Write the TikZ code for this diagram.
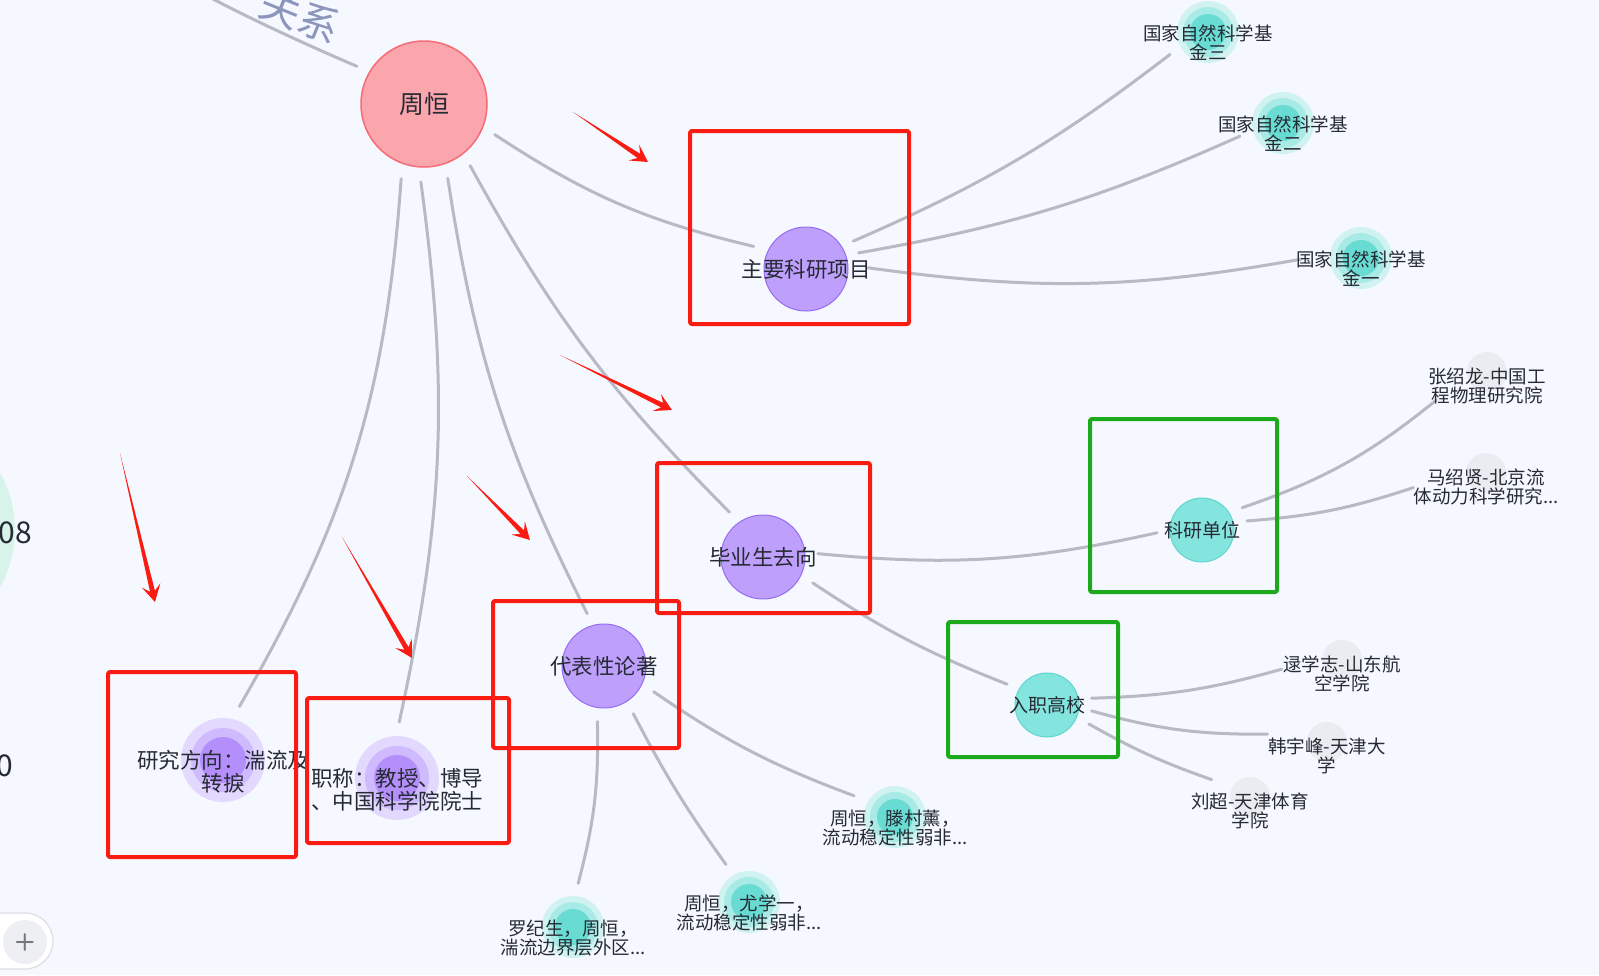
\documentclass[tikz,border=0pt]{standalone}
\usepackage{fontspec}
\newfontfamily\cjk{Noto Sans CJK SC}
\usetikzlibrary{calc}
\definecolor{bgc}{RGB}{245,248,254}
\definecolor{linkc}{RGB}{183,186,197}
\definecolor{ink}{RGB}{38,42,52}
\definecolor{relc}{RGB}{140,150,188}
\definecolor{hubfill}{RGB}{250,166,172}
\definecolor{hubdraw}{RGB}{246,108,118}
\definecolor{catfill}{RGB}{190,160,252}
\definecolor{catdraw}{RGB}{150,108,245}
\definecolor{subfill}{RGB}{132,228,222}
\definecolor{subdraw}{RGB}{96,214,207}
\definecolor{pA}{RGB}{227,217,254}
\definecolor{pB}{RGB}{206,186,253}
\definecolor{pC}{RGB}{180,142,250}
\definecolor{tA}{RGB}{208,243,241}
\definecolor{tB}{RGB}{168,234,229}
\definecolor{tC}{RGB}{104,219,210}
\definecolor{gA}{RGB}{234,236,241}
\definecolor{leftc}{RGB}{216,243,233}
\definecolor{annotred}{RGB}{250,28,18}
\definecolor{annotgreen}{RGB}{28,170,28}
\definecolor{btnc}{RGB}{220,222,228}
\definecolor{btnfill}{RGB}{238,239,242}
\definecolor{pluscol}{RGB}{118,118,128}
\tikzset{
  link/.style={draw=linkc,line width=3pt},
  hub/.style={circle,inner sep=0pt,minimum size=126pt,fill=hubfill,draw=hubdraw,line width=1.5pt},
  cat/.style={circle,inner sep=0pt,minimum size=84pt,fill=catfill,draw=catdraw,line width=1pt},
  sub/.style={circle,inner sep=0pt,minimum size=64pt,fill=subfill,draw=subdraw,line width=1pt},
  haloP/.style={circle,inner sep=0pt,minimum size=84pt,fill=pA,
    path picture={\fill[pB] (path picture bounding box.center) circle (32pt);
      \fill[pC] (path picture bounding box.center) circle (23pt);}},
  haloT/.style={circle,inner sep=0pt,minimum size=62pt,fill=tA,
    path picture={\fill[tB] (path picture bounding box.center) circle (25pt);
      \fill[tC] (path picture bounding box.center) circle (18pt);}},
  haloG/.style={circle,inner sep=0pt,minimum size=40pt,fill=gA},
  big/.style={font=\cjk\fontsize{25}{27}\selectfont,text=ink,inner sep=0pt},
  txt/.style={font=\cjk\fontsize{21.5}{22.5}\selectfont,text=ink,inner sep=0pt,align=center},
  small/.style={font=\cjk\fontsize{18.5}{19}\selectfont,text=ink,inner sep=0pt,align=center},
  redbox/.style={draw=annotred,line width=4pt,rounded corners=2pt},
  greenbox/.style={draw=annotgreen,line width=4pt,rounded corners=2pt},
}
% link: from, gap at from, bend, to, gap at to (gaps taken along the centre line)
\newcommand{\lnk}[5]{\draw[link] ($(#1)!#2pt!(#4)$) to[#3] ($(#4)!#5pt!(#1)$);}
% tapering hand-drawn annotation arrow: name, tail, head
\newcommand{\redarrow}[3]{%
  \coordinate (#1-t) at (#2);
  \coordinate (#1-h) at (#3);
  \coordinate (#1-b) at ($(#1-h)!17pt!(#1-t)$);
  \coordinate (#1-i) at ($(#1-h)!11pt!(#1-t)$);
  \fill[annotred] (#1-t) -- ($(#1-i)!2.5pt!90:(#1-h)$) -- ($(#1-b)!9.5pt!90:(#1-h)$) -- (#1-h)
    -- ($(#1-b)!9.5pt!-90:(#1-h)$) -- ($(#1-i)!2.5pt!-90:(#1-h)$) -- cycle;}
\begin{document}
\begin{tikzpicture}[x=1pt,y=-1pt,line cap=round,line join=round]
\clip (0,0) rectangle (1599,975);
\fill[bgc] (0,0) rectangle (1599,975);

% cut-off neighbour on the left
\fill[leftc] (-101,530) circle (116pt);
\node[font=\cjk\fontsize{30}{30}\selectfont,text=ink,inner sep=0pt,anchor=east] (num1) at (32,533) {08};
\node[font=\cjk\fontsize{30}{30}\selectfont,text=ink,inner sep=0pt,anchor=east] (num2) at (13,766) {0};

% nodes
\node[hub] (zh) at (424,104) {};
\node[cat] (proj) at (806,269) {};
\node[cat] (grad) at (763,557) {};
\node[cat] (paper) at (604,666) {};
\node[haloP] (rf) at (223,760) {};
\node[haloP] (title) at (397,778) {};
\node[sub] (inst) at (1202,530) {};
\node[sub] (univ) at (1047,705) {};
\foreach \n/\p in {f3/{1208,32},f2/{1283,123},f1/{1361,258},p1/{895,817},p2/{749,902},p3/{573,927}}
  \node[haloT] (\n) at (\p) {};
\foreach \n/\p in {g1/{1487,372},g2/{1486,473},u1/{1342,660},u2/{1327,742},u3/{1250,797}}
  \node[haloG] (\n) at (\p) {};
\coordinate (up) at (0,-134);

% links
\lnk{zh}{77}{bend left=6}{up}{0}
\lnk{zh}{78}{bend left=13}{rf}{56}
\lnk{zh}{78}{bend left=10}{title}{56}
\lnk{zh}{78}{bend right=9}{paper}{55}
\lnk{zh}{77}{bend right=8}{grad}{56}
\lnk{zh}{77}{bend right=10}{proj}{57}
\lnk{proj}{55}{bend right=7}{f3}{44}
\lnk{proj}{55}{bend right=7}{f2}{45}
\lnk{proj}{62}{bend right=9}{f1}{60}
\lnk{grad}{55}{bend right=9}{inst}{45}
\lnk{grad}{56}{bend right=6}{univ}{45}
\lnk{inst}{46}{bend right=10}{g1}{58}
\lnk{inst}{46}{bend right=7}{g2}{74}
\lnk{univ}{45}{bend right=7}{u1}{61}
\lnk{univ}{45}{bend right=8}{u2}{60}
\lnk{univ}{46}{bend right=5}{u3}{42}
\lnk{paper}{56}{bend right=7}{p1}{46}
\lnk{paper}{56}{bend right=4}{p2}{44}
\lnk{paper}{56}{bend left=8}{p3}{44}

% texts
\node[font=\cjk\fontsize{41}{41}\selectfont,text=relc,rotate=-22] (rel) at (300,15) {关系};
\node[big] (zh-l) at (zh) {周恒};
\node[txt] (proj-l) at (proj) {主要科研项目};
\node[txt] (grad-l) at (grad) {毕业生去向};
\node[txt] (paper-l) at (paper) {代表性论著};
\node[txt] (rf-l) at ([yshift=-12pt]rf.center) {研究方向：湍流及\\转捩};
\node[txt] (title-l) at ([yshift=-12pt]title.center) {职称：教授、博导\\、中国科学院院士};
\node[small,font=\cjk\fontsize{19}{19}\selectfont] (inst-l) at (inst) {科研单位};
\node[small,font=\cjk\fontsize{19}{19}\selectfont] (univ-l) at (univ) {入职高校};
\foreach \n/\t in {f3/{国家自然科学基\\金三},f2/{国家自然科学基\\金二},f1/{国家自然科学基\\金一},
    p1/{周恒，滕村薰，\\流动稳定性弱非...},p2/{周恒，尤学一，\\流动稳定性弱非...},p3/{罗纪生，周恒，\\湍流边界层外区...}}
  \node[small] (\n-l) at ([yshift=-11pt]\n.center) {\t};
\foreach \n/\t in {g1/{张绍龙-中国工\\程物理研究院},g2/{马绍贤-北京流\\体动力科学研究...},
    u1/{逯学志-山东航\\空学院},u2/{韩宇峰-天津大\\学},u3/{刘超-天津体育\\学院}}
  \node[small] (\n-l) at ([yshift=-14pt]\n.center) {\t};

% annotations
\draw[redbox] (690,131) rectangle (909,324);
\draw[redbox] (657,463) rectangle (870,613);
\draw[redbox] (493,601) rectangle (679,748);
\draw[redbox] (108,672) rectangle (296,857);
\draw[redbox] (307,698) rectangle (509,843);
\draw[greenbox] (1090,419) rectangle (1277,592);
\draw[greenbox] (948,622) rectangle (1118,757);
\redarrow{a1}{573,112}{648,162}
\redarrow{a2}{560,355}{672,410}
\redarrow{a3}{467,476}{530,540}
\redarrow{a4}{342,537}{412,658}
\redarrow{a5}{120,453}{155,602}

% zoom button
\draw[btnc,fill=white,line width=1.2pt,rounded corners=28pt] (-60,913) rectangle (53,969);
\node[circle,fill=btnfill,minimum size=44pt,inner sep=0pt] (zoomin) at (25,942) {};
\node[font=\sffamily\bfseries\fontsize{24}{24}\selectfont,text=pluscol,inner sep=0pt] (plus) at (zoomin) {+};
\end{tikzpicture}
\end{document}
